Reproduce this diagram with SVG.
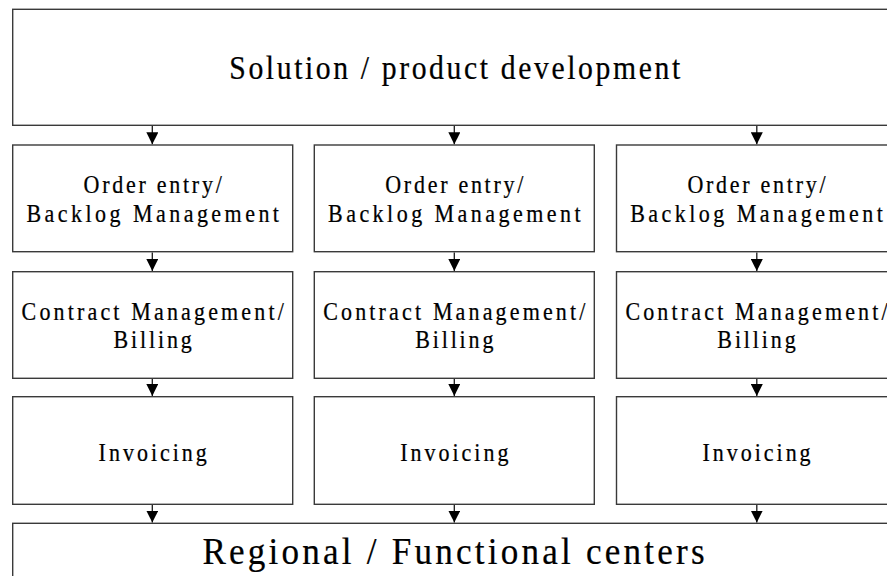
<svg xmlns="http://www.w3.org/2000/svg" width="887" height="576" viewBox="0 0 887 576">
<style>
.box{fill:#ffffff;stroke:#3a3a3a;stroke-width:1.4}
.t{font-family:"Liberation Serif","Times New Roman",serif;fill:#000;text-anchor:middle;stroke:#000;stroke-width:0.25}
.s{font-size:25px}
.big{font-size:33px}
.bot{font-size:39px}
.c{stroke:#1a1a1a;stroke-width:1.3;fill:none;marker-end:url(#ah)}
</style>
<defs>
<marker id="ah" viewBox="0 0 12 12" refX="12" refY="6" markerWidth="12" markerHeight="12" orient="auto" markerUnits="userSpaceOnUse">
<path d="M0,0 L12,6 L0,12 z" fill="#000"/>
</marker>
</defs>
<rect x="0" y="0" width="887" height="576" fill="#ffffff"/>

<g id="top">
<rect class="box" x="12.7" y="9.3" width="884" height="116"/>
<text class="t big" transform="translate(454.7,79.3) scale(0.9,1)" textLength="501" lengthAdjust="spacing">Solution / product development</text>
</g>

<g id="order1">
<rect class="box" x="12.7" y="145" width="280" height="106.7"/>
<text class="t s" transform="translate(152.7,193.3) scale(0.88,1)" textLength="157" lengthAdjust="spacing">Order entry/</text>
<text class="t s" transform="translate(152.7,221.7) scale(0.88,1)" textLength="287" lengthAdjust="spacing">Backlog Management</text>
</g>
<g id="order2">
<rect class="box" x="314.3" y="145" width="280" height="106.7"/>
<text class="t s" transform="translate(454.3,193.3) scale(0.88,1)" textLength="157" lengthAdjust="spacing">Order entry/</text>
<text class="t s" transform="translate(454.3,221.7) scale(0.88,1)" textLength="287" lengthAdjust="spacing">Backlog Management</text>
</g>
<g id="order3">
<rect class="box" x="616.5" y="145" width="280" height="106.7"/>
<text class="t s" transform="translate(756.5,193.3) scale(0.88,1)" textLength="157" lengthAdjust="spacing">Order entry/</text>
<text class="t s" transform="translate(756.5,221.7) scale(0.88,1)" textLength="287" lengthAdjust="spacing">Backlog Management</text>
</g>

<g id="contract1">
<rect class="box" x="12.7" y="271.7" width="280" height="106.6"/>
<text class="t s" transform="translate(152.7,320) scale(0.88,1)" textLength="298" lengthAdjust="spacing">Contract Management/</text>
<text class="t s" transform="translate(152.7,348.3) scale(0.88,1)" textLength="89" lengthAdjust="spacing">Billing</text>
</g>
<g id="contract2">
<rect class="box" x="314.3" y="271.7" width="280" height="106.6"/>
<text class="t s" transform="translate(454.3,320) scale(0.88,1)" textLength="298" lengthAdjust="spacing">Contract Management/</text>
<text class="t s" transform="translate(454.3,348.3) scale(0.88,1)" textLength="89" lengthAdjust="spacing">Billing</text>
</g>
<g id="contract3">
<rect class="box" x="616.5" y="271.7" width="280" height="106.6"/>
<text class="t s" transform="translate(756.5,320) scale(0.88,1)" textLength="298" lengthAdjust="spacing">Contract Management/</text>
<text class="t s" transform="translate(756.5,348.3) scale(0.88,1)" textLength="89" lengthAdjust="spacing">Billing</text>
</g>

<g id="invoice1">
<rect class="box" x="12.7" y="396.7" width="280" height="107.6"/>
<text class="t s" transform="translate(152.7,460.7) scale(0.88,1)" textLength="123" lengthAdjust="spacing">Invoicing</text>
</g>
<g id="invoice2">
<rect class="box" x="314.3" y="396.7" width="280" height="107.6"/>
<text class="t s" transform="translate(454.3,460.7) scale(0.88,1)" textLength="123" lengthAdjust="spacing">Invoicing</text>
</g>
<g id="invoice3">
<rect class="box" x="616.5" y="396.7" width="280" height="107.6"/>
<text class="t s" transform="translate(756.5,460.7) scale(0.88,1)" textLength="123" lengthAdjust="spacing">Invoicing</text>
</g>

<g id="bottom">
<rect class="box" x="12.7" y="523.3" width="884" height="80"/>
<text class="t bot" transform="translate(453.5,564) scale(0.9,1)" textLength="558" lengthAdjust="spacing">Regional / Functional centers</text>
</g>

<g id="connectors">
<line class="c" x1="152.3" y1="126" x2="152.3" y2="144.3"/>
<line class="c" x1="454.3" y1="126" x2="454.3" y2="144.3"/>
<line class="c" x1="756.8" y1="126" x2="756.8" y2="144.3"/>
<line class="c" x1="152.3" y1="252.4" x2="152.3" y2="271"/>
<line class="c" x1="454.3" y1="252.4" x2="454.3" y2="271"/>
<line class="c" x1="756.8" y1="252.4" x2="756.8" y2="271"/>
<line class="c" x1="152.3" y1="379" x2="152.3" y2="396"/>
<line class="c" x1="454.3" y1="379" x2="454.3" y2="396"/>
<line class="c" x1="756.8" y1="379" x2="756.8" y2="396"/>
<line class="c" x1="152.3" y1="505" x2="152.3" y2="522.6"/>
<line class="c" x1="454.3" y1="505" x2="454.3" y2="522.6"/>
<line class="c" x1="756.8" y1="505" x2="756.8" y2="522.6"/>
</g>
</svg>
